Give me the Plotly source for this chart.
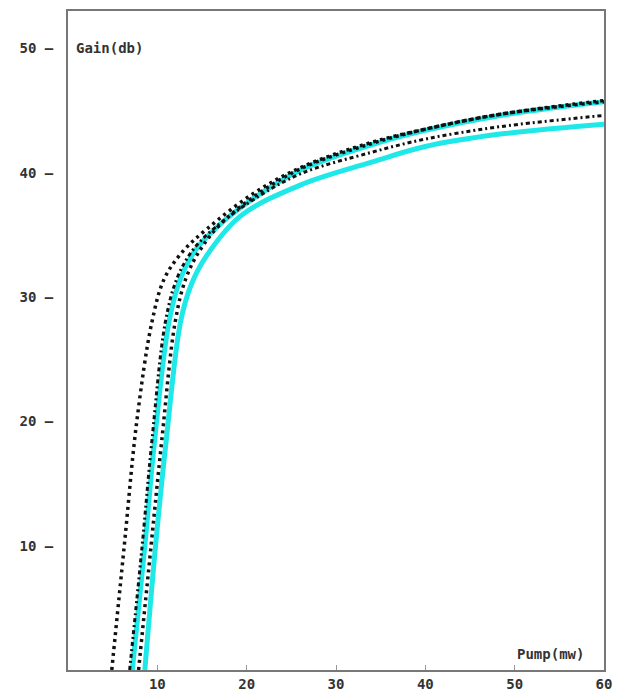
import plotly.graph_objects as go

# Pump power (mW) and gain (dB)
dotted1_pump = [4.9, 6.3, 7.7, 9.4, 10.8, 12.9, 15.6, 20.7, 26.0, 33.8, 40.0, 48.4, 60.0]
dotted1_gain = [0.0, 10.0, 20.0, 28.0, 31.5, 33.7, 35.5, 38.3, 40.4, 42.4, 43.5, 44.7, 45.8]

cyan1_pump = [7.2, 8.6, 9.7, 11.3, 12.6, 14.3, 16.8, 20.7, 26.0, 33.8, 40.0, 48.4, 60.0]
cyan1_gain = [0.0, 10.0, 18.5, 28.0, 31.5, 33.8, 35.7, 37.9, 40.2, 42.2, 43.4, 44.6, 45.7]

dotted2_pump = [6.9, 8.3, 9.4, 10.9, 12.2, 14.0, 16.5, 20.7, 26.0, 33.8, 40.0, 48.4, 60.0]
dotted2_gain = [0.0, 10.0, 18.5, 28.0, 31.5, 33.8, 35.6, 37.8, 39.9, 41.6, 42.7, 43.7, 44.6]

dotted3_pump = [7.9, 9.3, 10.5, 12.0, 13.2, 14.8, 17.0, 20.7, 26.0, 33.8, 40.0, 48.4, 60.0]
dotted3_gain = [0.0, 10.0, 18.5, 28.0, 31.5, 33.8, 35.8, 38.0, 40.3, 42.3, 43.5, 44.7, 45.7]

cyan2_pump = [8.6, 9.8, 11.0, 12.6, 13.8, 15.5, 19.3, 26.0, 33.8, 40.0, 48.4, 60.0]
cyan2_gain = [0.0, 10.0, 18.5, 28.0, 31.0, 33.3, 36.5, 39.0, 40.8, 42.1, 43.1, 43.9]

x_ticks = [10, 20, 30, 40, 50, 60]
x_tick_labels = ["10", "20", "30", "40", "50", "60"]
y_ticks = [10, 20, 30, 40, 50]
y_tick_labels = ["10 –", "20 –", "30 –", "40 –", "50 –"]

CYAN = "#1ee8e8"
BLACK = "#111111"

fig = go.Figure()

def cyan_trace(x, y):
    fig.add_trace(go.Scatter(x=x, y=y, mode="lines",
                             line=dict(color=CYAN, width=5, shape="spline", smoothing=1.0),
                             showlegend=False, hoverinfo="skip"))

def dot_trace(x, y, dash, width=3.5):
    fig.add_trace(go.Scatter(x=x, y=y, mode="lines",
                             line=dict(color=BLACK, width=width, dash=dash, shape="spline", smoothing=1.0),
                             showlegend=False, hoverinfo="skip"))

cyan_trace(cyan1_pump, cyan1_gain)
cyan_trace(cyan2_pump, cyan2_gain)
dot_trace(dotted1_pump, dotted1_gain, "3px,4px")
dot_trace(dotted2_pump, dotted2_gain, "4px,3px,2px,3px", 3)
dot_trace(dotted3_pump, dotted3_gain, "3px,4px")

font = dict(family="DejaVu Sans Mono", size=14, color="#333333", weight="bold")

fig.update_layout(
    width=626, height=687,
    margin=dict(l=60, r=30, t=1, b=25),
    paper_bgcolor="white", plot_bgcolor="white",
    font=font,
    xaxis=dict(range=[0, 60], tickvals=x_ticks, ticktext=x_tick_labels, showgrid=False, zeroline=False,
               showline=True, linecolor="#777777", linewidth=2, mirror=True,
               ticks="inside", ticklen=5, tickcolor="#999999", tickfont=font),
    yaxis=dict(range=[0, 53], tickvals=y_ticks, ticktext=y_tick_labels, showgrid=False, zeroline=False,
               showline=True, linecolor="#777777", linewidth=2, mirror=True,
               ticks="outside", ticklen=10, tickcolor="rgba(0,0,0,0)", tickfont=font),
)

fig.add_annotation(x=0, y=50, xref="x", yref="y", text="Gain(db)", showarrow=False,
                   xanchor="left", yanchor="middle", xshift=6, font=font)
fig.add_annotation(x=60, y=0, xref="x", yref="y", text="Pump(mw)", showarrow=False,
                   xanchor="right", yanchor="bottom", xshift=-18, yshift=6, font=font)

fig.write_html("out.html")
